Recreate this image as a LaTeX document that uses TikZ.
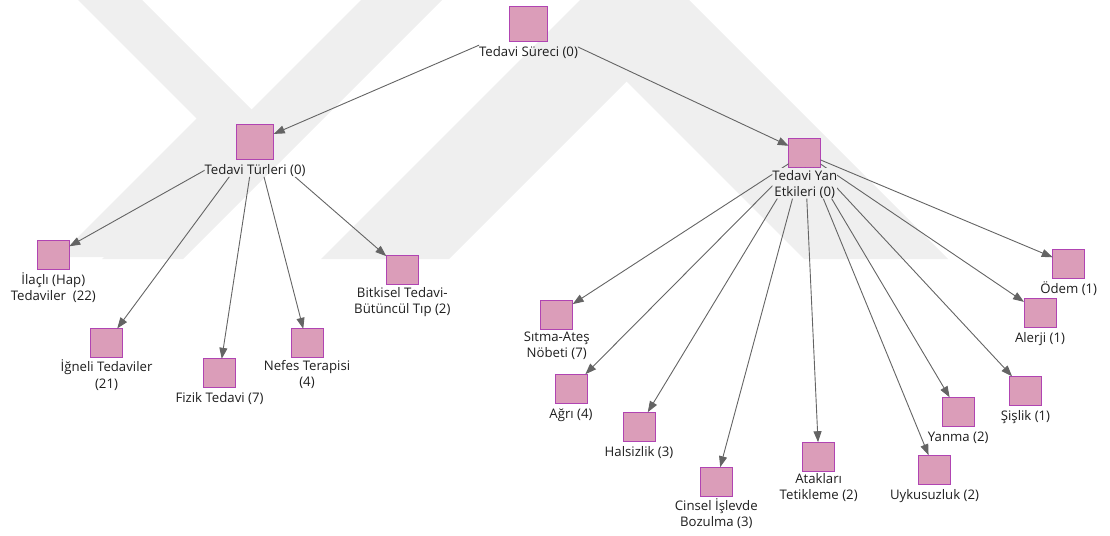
\documentclass[tikz,border=0pt]{standalone}
\usepackage{fontspec}
\setmainfont{Open Sans}
\usetikzlibrary{arrows.meta,positioning,fit}
\definecolor{boxfill}{RGB}{219,157,185}
\definecolor{boxline}{RGB}{176,68,178}
\definecolor{edgecol}{RGB}{100,100,100}
\definecolor{txtcol}{RGB}{30,30,30}
\definecolor{wmark}{RGB}{239,239,239}

\begin{document}
\begin{tikzpicture}[x=1pt,y=-1pt,
  box/.style={draw=boxline, fill=boxfill, line width=1pt, minimum width=32pt,
    minimum height=29pt, inner sep=0pt, outer sep=0pt},
  bigbox/.style={box, minimum width=37.5pt, minimum height=35.5pt},
  lbl/.style={font={\fontsize{13.2}{16.2}\selectfont}, text=txtcol, align=center,
    inner sep=0pt, outer sep=0pt, execute at begin node={\rule{0pt}{12.5pt}}},
  edge/.style={draw=edgecol, line width=0.9pt, -{Triangle[length=11pt,width=8pt]}},
  hull/.style={inner sep=0pt, outer sep=0pt}
]
\useasboundingbox (0,0) rectangle (1110,535);

% faint background chevrons
\begin{scope}
  \clip (0,0) rectangle (1110,535);
  \fill[wmark] (321,259) -- (634.5,-54.5) -- (948,259) -- (804,259)
    -- (626.5,81.5) -- (449,259) -- cycle;
  \fill[wmark] (361,0) -- (442,0) -- (183,259) -- (102,259) -- cycle;
  \fill[wmark] (142,0) -- (264,122) -- (129,257) -- (58,257)
    -- (196.5,118.5) -- (78,0) -- cycle;
\end{scope}

% boxes
\node[bigbox] (b0) at (528.5,23.8) {};
\node[bigbox] (b1) at (255,142) {};
\node[box] (b2) at (804.7,153.3) {};
\node[box] (b3) at (53.3,255.3) {};
\node[box] (b4) at (106.5,343) {};
\node[box] (b5) at (219.5,373.3) {};
\node[box] (b6) at (307,343.3) {};
\node[box] (b7) at (402.3,270) {};
\node[box] (b8) at (556.7,314.5) {};
\node[box] (b9) at (571,388.7) {};
\node[box] (b10) at (639,426.7) {};
\node[box] (b11) at (716.3,481.7) {};
\node[box] (b12) at (818.7,456.7) {};
\node[box] (b13) at (934.5,469.7) {};
\node[box] (b14) at (958.2,411.8) {};
\node[box] (b15) at (1025.5,390.8) {};
\node[box] (b16) at (1040,312.7) {};
\node[box] (b17) at (1068.7,264) {};

% labels
\node[lbl, below=2.5pt of b0] (l0) {Tedavi Süreci (0)};
\node[lbl, below=2.5pt of b1] (l1) {Tedavi Türleri (0)};
\node[lbl, below=2.5pt of b2] (l2) {Tedavi Yan\\Etkileri (0)};
\node[lbl, below=2.5pt of b3] (l3) {İlaçlı (Hap)\\Tedaviler\ \ (22)};
\node[lbl, below=2.5pt of b4] (l4) {İğneli Tedaviler\\(21)};
\node[lbl, below=2.5pt of b5] (l5) {Fizik Tedavi (7)};
\node[lbl, below=2.5pt of b6] (l6) {Nefes Terapisi\\(4)};
\node[lbl, below=2.5pt of b7] (l7) {Bitkisel Tedavi-\\Bütüncül Tıp (2)};
\node[lbl, below=2.5pt of b8] (l8) {Sıtma-Ateş\\Nöbeti (7)};
\node[lbl, below=2.5pt of b9] (l9) {Ağrı (4)};
\node[lbl, below=2.5pt of b10] (l10) {Halsizlik (3)};
\node[lbl, below=2.5pt of b11] (l11) {Cinsel İşlevde\\Bozulma (3)};
\node[lbl, below=2.5pt of b12] (l12) {Atakları\\Tetikleme (2)};
\node[lbl, below=2.5pt of b13] (l13) {Uykusuzluk (2)};
\node[lbl, below=2.5pt of b14] (l14) {Yanma (2)};
\node[lbl, below=2.5pt of b15] (l15) {Şişlik (1)};
\node[lbl, below=2.5pt of b16] (l16) {Alerji (1)};
\node[lbl, below=2.5pt of b17] (l17) {Ödem (1)};

% areas of the parent items that their own connectors do not cross
\node[hull, fit=(b0)(l0)] (h0) {};
\node[hull, fit=(b1)(l1)] (h1) {};

% connectors of the root
\begin{scope}[even odd rule]
  \clip (-20,-20) rectangle (1130,555) (h0.north west) rectangle (h0.south east);
  \draw[edge] (b0.center) -- (b1);
  \draw[edge] (b0.center) -- (b2);
\end{scope}

% connectors of the treatment types
\begin{scope}[even odd rule]
  \clip (-20,-20) rectangle (1130,555) (h1.north west) rectangle (h1.south east);
  \foreach \t in {3,...,7} {\draw[edge] (b1.center) -- (b\t);}
\end{scope}

% connectors of the side effects
\begin{scope}[even odd rule]
  \clip (-20,-20) rectangle (1130,555)
    (b2.north west) rectangle (b2.south east)
    (l2.west |- b2.south) rectangle (l2.south east);
  \foreach \t in {8,...,17} {\draw[edge] (b2.center) -- (b\t);}
\end{scope}
\end{tikzpicture}
\end{document}
